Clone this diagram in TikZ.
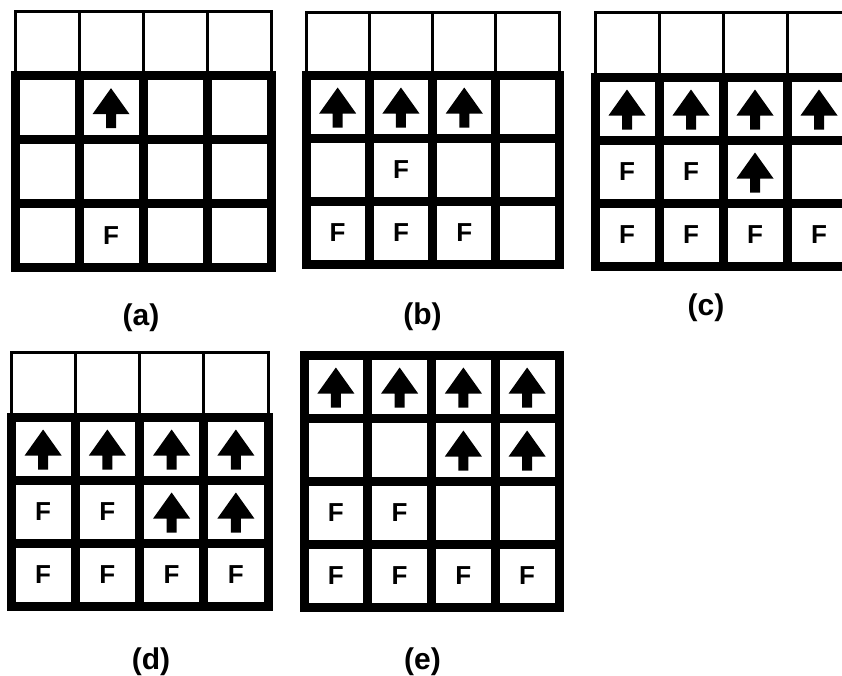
\documentclass[tikz,border=0pt]{standalone}
\usepackage{fontspec}
\setmainfont{Liberation Sans}
\begin{document}
\begin{tikzpicture}[x=1pt,y=-1pt,
  thinln/.style={line width=3pt,line join=miter},
  thickln/.style={line width=9pt,line join=miter,line cap=rect},
  ftext/.style={inner sep=0pt,font=\fontsize{26}{26}\selectfont\bfseries},
  lbl/.style={inner sep=0pt,font=\fontsize{30}{30}\selectfont\bfseries},
  uparr/.pic={\fill (0,-19) -- (18.5,7) -- (5,7) -- (5,21) -- (-5,21) -- (-5,7) -- (-18.5,7) -- cycle;}]
\useasboundingbox (0,0) rectangle (842,675);
\clip (0,0) rectangle (842,675);
\newcommand\mkpanel[7]{% name, x0, dx, ytop, dy, nrows, thintop (0 = none)
  \pgfmathsetmacro\pR{#2+4*#3}%
  \pgfmathsetmacro\pB{#4+#6*#5}%
  \ifdim #7pt>0pt
    \draw[thinln] (#2,#7) rectangle (\pR,#4);
    \foreach \i in {1,2,3}{\draw[thinln] ({#2+\i*#3},#7) -- ({#2+\i*#3},#4);}
  \fi
  \foreach \i in {1,2,3}{\draw[thickln] ({#2+\i*#3},#4) -- ({#2+\i*#3},\pB);}
  \foreach \j in {1,...,#6}{\draw[thickln] (#2,{#4+\j*#5}) -- (\pR,{#4+\j*#5});}
  \draw[thickln] (#2,#4) rectangle (\pR,\pB);
  \foreach \i in {1,...,4}{\foreach \j in {1,...,#6}{%
    \coordinate (#1-\i-\j) at ({#2+(\i-0.5)*#3},{#4+(\j-0.5)*#5});}}
}
% panel (a)
\mkpanel{a}{15}{64}{75}{64.3}{3}{11}
\pic at (a-2-1) {uparr};
\node[ftext] (aF23) at (a-2-3) {F};
\node[lbl] (la) at (141,317.5) {(a)};
% panel (b)
\mkpanel{b}{306}{63.3}{75}{63}{3}{12}
\pic at (b-1-1) {uparr};
\pic at (b-2-1) {uparr};
\pic at (b-3-1) {uparr};
\node[ftext] (bF22) at (b-2-2) {F};
\node[ftext] (bF13) at (b-1-3) {F};
\node[ftext] (bF23) at (b-2-3) {F};
\node[ftext] (bF33) at (b-3-3) {F};
\node[lbl] (lb) at (422.5,317) {(b)};
% panel (c)
\mkpanel{c}{595}{64}{77}{63}{3}{12}
\pic at (c-1-1) {uparr};
\pic at (c-2-1) {uparr};
\pic at (c-3-1) {uparr};
\pic at (c-4-1) {uparr};
\node[ftext] (cF12) at (c-1-2) {F};
\node[ftext] (cF22) at (c-2-2) {F};
\pic at (c-3-2) {uparr};
\node[ftext] (cF13) at (c-1-3) {F};
\node[ftext] (cF23) at (c-2-3) {F};
\node[ftext] (cF33) at (c-3-3) {F};
\node[ftext] (cF43) at (c-4-3) {F};
\node[lbl] (lc) at (706,308) {(c)};
% panel (d)
\mkpanel{d}{11}{64.25}{417}{63}{3}{352}
\pic at (d-1-1) {uparr};
\pic at (d-2-1) {uparr};
\pic at (d-3-1) {uparr};
\pic at (d-4-1) {uparr};
\node[ftext] (dF12) at (d-1-2) {F};
\node[ftext] (dF22) at (d-2-2) {F};
\pic at (d-3-2) {uparr};
\pic at (d-4-2) {uparr};
\node[ftext] (dF13) at (d-1-3) {F};
\node[ftext] (dF23) at (d-2-3) {F};
\node[ftext] (dF33) at (d-3-3) {F};
\node[ftext] (dF43) at (d-4-3) {F};
\node[lbl] (ld) at (151,662) {(d)};
% panel (e)
\mkpanel{e}{304}{63.75}{355}{63}{4}{0}
\pic at (e-1-1) {uparr};
\pic at (e-2-1) {uparr};
\pic at (e-3-1) {uparr};
\pic at (e-4-1) {uparr};
\pic at (e-3-2) {uparr};
\pic at (e-4-2) {uparr};
\node[ftext] (eF13) at (e-1-3) {F};
\node[ftext] (eF23) at (e-2-3) {F};
\node[ftext] (eF14) at (e-1-4) {F};
\node[ftext] (eF24) at (e-2-4) {F};
\node[ftext] (eF34) at (e-3-4) {F};
\node[ftext] (eF44) at (e-4-4) {F};
\node[lbl] (le) at (422.5,662) {(e)};
\end{tikzpicture}
\end{document}
